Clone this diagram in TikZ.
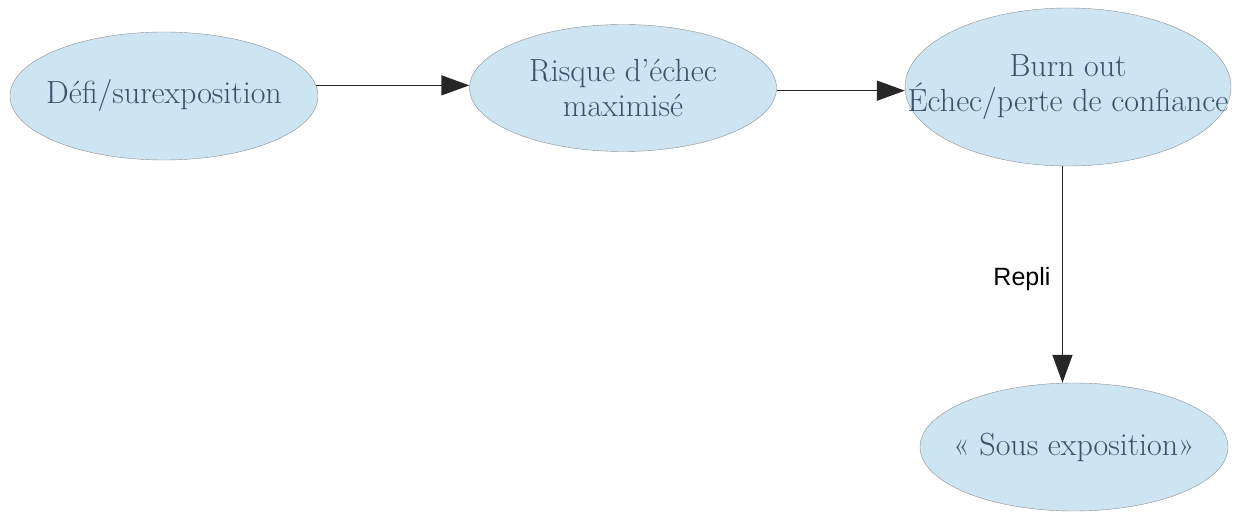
\documentclass[tikz,border=0pt]{standalone}
\usepackage{fontspec}
\usetikzlibrary{arrows.meta,shapes,positioning,calc}
\newfontfamily\repfont{Liberation Sans}

\definecolor{bulle}{HTML}{CDE4F2}
\definecolor{bord}{HTML}{8C9094}
\definecolor{texte}{HTML}{37536A}

\tikzset{
  etat/.style={ellipse, draw=bord, fill=bulle, inner sep=0pt},
  etiq/.style={text=texte, align=center, font=\fontsize{32}{35}\selectfont},
  fleche/.style={-{Triangle[length=28pt,width=20pt]}, line width=1.4pt, draw=black!85}
}

\begin{document}
\begin{tikzpicture}[x=1pt,y=1pt]
\useasboundingbox (0,0) rectangle (1244,512);

\node [etat, minimum width=308pt, minimum height=128pt,
  label={[etiq]center:D\'efi/surexposition}] (defi) at (164,416) {};
\node [etat, minimum width=307pt, minimum height=127pt,
  label={[etiq]center:Risque d'\'echec\\maximis\'e}] (risque) at (623,424) {};
\node [etat, minimum width=326pt, minimum height=158pt,
  label={[etiq]center:Burn out\\\'Echec/perte de confiance}] (burn) at (1068,425) {};
\node [etat, minimum width=308pt, minimum height=128pt,
  label={[etiq]center:\guillemotleft{} Sous exposition\guillemotright}] (sous) at (1074,65) {};

\draw [fleche] (defi.4) -- (defi.4 -| risque.west);
\draw [fleche] (risque.-1) -- (risque.-1 -| burn.west);
\draw [fleche] (burn.266) -- (burn.266 |- sous.north)
  node [pos=0.52, left=8pt, font=\repfont\fontsize{25}{29}\selectfont] (repli) {Repli};
\end{tikzpicture}
\end{document}
